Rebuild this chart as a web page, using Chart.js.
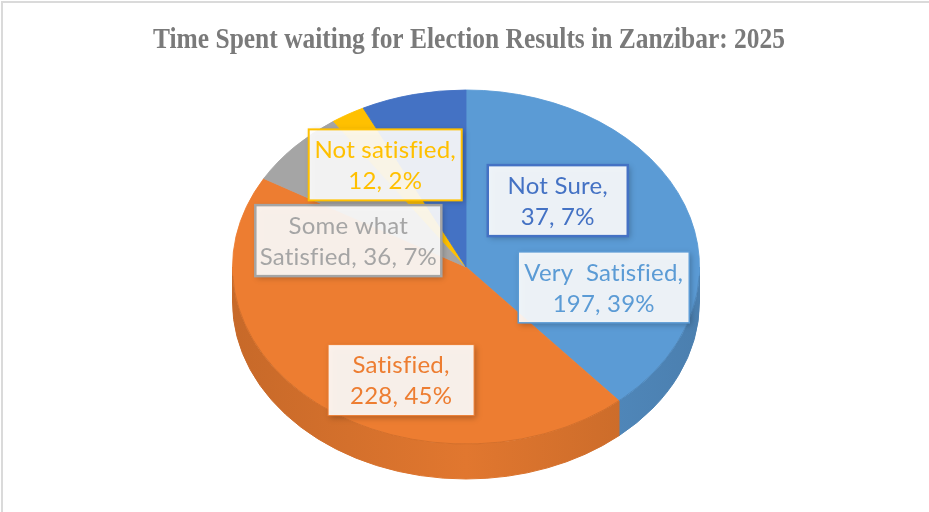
<!DOCTYPE html>
<html><head><meta charset="utf-8">
<script src="https://cdn.jsdelivr.net/npm/chart.js@4.4.1/dist/chart.umd.min.js"></script>
<style>
html,body{margin:0;padding:0;background:#fff;}
#wrap{position:relative;width:929px;height:512px;overflow:hidden;}
#frame{position:absolute;left:1px;top:1px;right:-10px;bottom:-10px;border-top:2px solid #dadada;border-left:2px solid #dadada;pointer-events:none;}
</style></head><body>
<div id="wrap"><canvas id="c"></canvas><div id="frame"></div></div>
<script>
// ---- data ----
const chartTitle = 'Time Spent waiting for Election Results in Zanzibar: 2025';
const categories = ['Very  Satisfied', 'Satisfied', 'Some what Satisfied', 'Not satisfied', 'Not Sure'];
const counts = [197, 228, 36, 12, 37];

// ---- styles / layout ----
const sliceColors = ['#5B9BD5', '#ED7D31', '#A5A5A5', '#FFC000', '#4472C4'];
const labelAnchors = [[0.590, 0.115], [-0.278, 0.639], [-0.504, -0.149], [-0.346, -0.577], [0.393, -0.375]];
const labelBoxWidths = [171, 146, 186, 153, 140];
const labelBorderWidths = [1.5, 1, 2.5, 2, 2.5];
const TILT = 0.758, DEPTH = 35;
const LABEL_FONT = '24px Lato';
const TITLE_WIDTH = 632;

function shade(hex, f) {
  const n = parseInt(hex.slice(1), 16);
  const r = (n >> 16) & 255, g = (n >> 8) & 255, b = n & 255;
  return `rgb(${Math.round(r * f)},${Math.round(g * f)},${Math.round(b * f)})`;
}

function buildLines(ctx, i, total) {
  const pct = Math.round(counts[i] / total * 100);
  const words = (categories[i] + ',').split(' ');
  let line1 = '', k = 0;
  for (; k < words.length; k++) {
    const cand = k === 0 ? words[0] : line1 + ' ' + words[k];
    if (k > 0 && ctx.measureText(cand).width > 175) break;
    line1 = cand;
  }
  const rest = words.slice(k).join(' ');
  const line2 = (rest ? rest + ' ' : '') + counts[i] + ', ' + pct + '%';
  return [line1, line2];
}

const pie3d = {
  id: 'pie3d',
  beforeDatasetsDraw(chart) {
    const ctx = chart.ctx, arcs = chart.getDatasetMeta(0).data;
    const cx = arcs[0].x, cy = arcs[0].y, R = arcs[0].outerRadius, ry = R * TILT;
    ctx.save();
    arcs.forEach((arc, i) => {
      const s = Math.max(arc.startAngle, 0), e = Math.min(arc.endAngle, Math.PI);
      if (e <= s) return;
      const col = sliceColors[i];
      const g = ctx.createLinearGradient(cx - R, 0, cx + R, 0);
      g.addColorStop(0, shade(col, 0.84));
      g.addColorStop(0.5, shade(col, 0.95));
      g.addColorStop(1, shade(col, 0.82));
      ctx.beginPath();
      ctx.ellipse(cx, cy, R, ry, 0, s, e);
      ctx.ellipse(cx, cy + DEPTH, R, ry, 0, e, s, true);
      ctx.closePath();
      ctx.fillStyle = g;
      ctx.strokeStyle = g;
      ctx.lineWidth = 1;
      ctx.fill();
      ctx.stroke();
    });
    ctx.restore();
    ctx.save();
    ctx.translate(cx, cy);
    ctx.scale(1, TILT);
    ctx.translate(-cx, -cy);
  },
  afterDatasetsDraw(chart) {
    const ctx = chart.ctx;
    ctx.restore();
    const arcs = chart.getDatasetMeta(0).data;
    const cx = arcs[0].x, cy = arcs[0].y, R = arcs[0].outerRadius, ry = R * TILT;
    // front rim
    ctx.save();
    ctx.beginPath();
    ctx.ellipse(cx, cy, R, ry, 0, 0.05, Math.PI - 0.05);
    ctx.strokeStyle = 'rgba(0,0,0,0.10)';
    ctx.lineWidth = 1;
    ctx.stroke();
    ctx.restore();
    // labels
    const total = counts.reduce((a, b) => a + b, 0);
    arcs.forEach((arc, i) => {
      ctx.save();
      ctx.font = LABEL_FONT;
      if ('letterSpacing' in ctx) ctx.letterSpacing = '0.2px';
      const lx = cx + R * labelAnchors[i][0], ly = cy + ry * labelAnchors[i][1];
      const lines = buildLines(ctx, i, total);
      const w = labelBoxWidths[i], h = 71;
      ctx.save();
      ctx.shadowColor = 'rgba(0,0,0,0.28)';
      ctx.shadowBlur = 6; ctx.shadowOffsetX = 2; ctx.shadowOffsetY = 2;
      ctx.fillStyle = 'rgba(255,255,255,0.9)';
      ctx.fillRect(lx - w / 2, ly - h / 2, w, h);
      ctx.restore();
      ctx.strokeStyle = sliceColors[i];
      ctx.lineWidth = labelBorderWidths[i];
      ctx.strokeRect(lx - w / 2, ly - h / 2, w, h);
      ctx.fillStyle = sliceColors[i];
      ctx.textAlign = 'center';
      ctx.textBaseline = 'middle';
      lines.forEach((t, k) => ctx.fillText(t, lx, ly + (k - 0.5) * 31 + 1));
      ctx.restore();
    });
  }
};

const titlePlugin = {
  id: 'titleText',
  afterDraw(chart) {
    const ctx = chart.ctx;
    ctx.save();
    ctx.font = 'bold 29px "Liberation Serif"';
    const w = ctx.measureText(chartTitle).width;
    ctx.translate(469, 47.5);
    ctx.scale(TITLE_WIDTH / w, 1);
    ctx.fillStyle = '#7a7a7a';
    ctx.textAlign = 'center';
    ctx.textBaseline = 'alphabetic';
    ctx.fillText(chartTitle, 0, 0);
    ctx.restore();
  }
};

new Chart(document.getElementById('c'), {
  type: 'pie',
  data: {
    labels: categories,
    datasets: [{
      data: counts,
      backgroundColor: sliceColors,
      borderColor: sliceColors,
      borderWidth: 1
    }]
  },
  options: {
    responsive: true,
    maintainAspectRatio: false,
    animation: false,
    events: [],
    layout: { padding: { left: 232, right: 229, top: 33, bottom: 11 } },
    plugins: { legend: { display: false }, tooltip: { enabled: false }, title: { display: false } }
  },
  plugins: [pie3d, titlePlugin]
});
</script>
</body></html>
